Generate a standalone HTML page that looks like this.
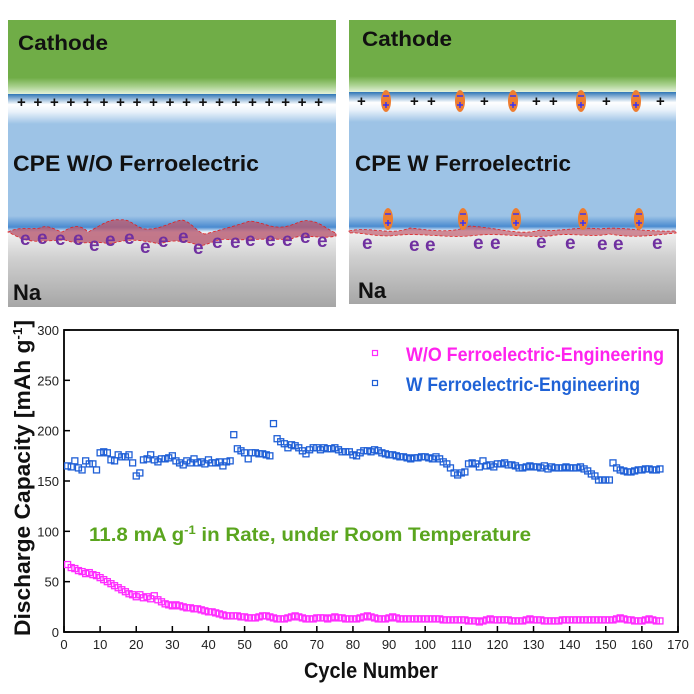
<!DOCTYPE html>
<html><head><meta charset="utf-8"><style>
html,body{margin:0;padding:0;background:#fff;width:694px;height:694px;overflow:hidden}
svg{display:block;font-family:"Liberation Sans",sans-serif}
</style></head><body>
<svg id="fig" width="694" height="694" viewBox="0 0 694 694">
<defs>
<linearGradient id="gGreen" x1="0" y1="0" x2="0" y2="1">
<stop offset="0" stop-color="#70ad47"/><stop offset="0.78" stop-color="#70ad47"/><stop offset="0.9" stop-color="#a9d18e"/><stop offset="1" stop-color="#e2f0d9"/></linearGradient>
<linearGradient id="gTopBlue" x1="0" y1="0" x2="0" y2="1">
<stop offset="0" stop-color="#2e75b6"/><stop offset="0.35" stop-color="#ffffff"/><stop offset="0.6" stop-color="#e8f1fa"/><stop offset="1" stop-color="#9dc3e6"/></linearGradient>
<linearGradient id="gBotBlue" x1="0" y1="0" x2="0" y2="1">
<stop offset="0" stop-color="#9dc3e6"/><stop offset="0.7" stop-color="#4a8bd0"/><stop offset="1" stop-color="#e8f1fa"/></linearGradient>
<linearGradient id="gGrey" x1="0" y1="0" x2="0" y2="1">
<stop offset="0" stop-color="#f2f2f2"/><stop offset="0.35" stop-color="#d0d0d0"/><stop offset="1" stop-color="#a6a6a6"/></linearGradient>
</defs>

<g>
<rect x="8" y="20" width="328" height="74" fill="url(#gGreen)"/>
<rect x="8" y="94" width="328" height="30" fill="url(#gTopBlue)"/>
<rect x="8" y="124" width="328" height="92" fill="#9dc3e6"/>
<rect x="8" y="216" width="328" height="16" fill="url(#gBotBlue)"/>
<rect x="8" y="232" width="328" height="75" fill="url(#gGrey)"/>
<path d="M8,232 C20,226 30,230 40,228 C48,224 55,230 62,232 C70,228 78,222 88,232 C100,226 110,218 120,220 C130,218 136,228 145,229 C160,230 170,222 182,220 C192,222 196,232 205,234 C220,230 235,226 250,221 C262,222 270,228 282,227 C295,226 300,219 310,221 C320,222 328,230 336,233 L336,236 C320,240 300,232 290,240 C270,238 250,240 230,240 C215,236 205,250 195,244 C180,240 170,240 160,244 C140,240 130,238 110,244 C95,240 80,246 65,240 C50,240 35,244 20,238 Z" fill="#b85a70" fill-opacity="0.8" stroke="#e02020" stroke-width="0.8" stroke-dasharray="3,2"/>
<text x="18" y="50" font-size="21" font-weight="bold" fill="#111" textLength="90" lengthAdjust="spacingAndGlyphs">Cathode</text>
<text x="13" y="171" font-size="22" font-weight="bold" fill="#111" textLength="246" lengthAdjust="spacingAndGlyphs">CPE W/O Ferroelectric</text>
<text x="13" y="300" font-size="22" font-weight="bold" fill="#111">Na</text>
<text x="17" y="107" font-size="15" font-weight="bold" fill="#111" textLength="306">+++++++++++++++++++</text>
<g font-size="19" font-weight="bold" fill="#7030a0">
<text x="20" y="245">e</text><text x="37" y="244">e</text><text x="55" y="245">e</text><text x="73" y="245">e</text><text x="89" y="251">e</text><text x="105" y="246">e</text><text x="124" y="244">e</text><text x="140" y="253">e</text><text x="158" y="247">e</text><text x="178" y="243">e</text><text x="193" y="254">e</text><text x="212" y="248">e</text><text x="230" y="248">e</text><text x="245" y="246">e</text><text x="265" y="246">e</text><text x="282" y="246">e</text><text x="300" y="243">e</text><text x="317" y="247">e</text>
</g>
</g>

<g>
<rect x="349" y="20" width="327" height="72" fill="url(#gGreen)"/>
<rect x="349" y="92" width="327" height="30" fill="url(#gTopBlue)"/>
<rect x="349" y="122" width="327" height="94" fill="#9dc3e6"/>
<rect x="349" y="216" width="327" height="15" fill="url(#gBotBlue)"/>
<rect x="349" y="231" width="327" height="73" fill="url(#gGrey)"/>
<path d="M349,231 C370,226 390,236 410,228 C430,230 450,234 470,226 C500,228 520,236 540,230 C560,232 580,226 600,229 C620,226 640,232 676,231 L676,233 C650,236 630,238 610,234 C590,238 570,232 550,236 C520,238 500,232 470,236 C440,238 420,232 390,236 C370,236 360,232 349,233 Z" fill="#c06070" fill-opacity="0.7" stroke="#e02020" stroke-width="0.8" stroke-dasharray="3,2"/>
<text x="362" y="46" font-size="21" font-weight="bold" fill="#111" textLength="90" lengthAdjust="spacingAndGlyphs">Cathode</text>
<text x="355" y="171" font-size="22" font-weight="bold" fill="#111" textLength="216" lengthAdjust="spacingAndGlyphs">CPE W Ferroelectric</text>
<text x="358" y="298" font-size="22" font-weight="bold" fill="#111">Na</text>
<g font-size="15" font-weight="bold" fill="#111">
<text x="357" y="106">+</text><text x="410" y="106">+</text><text x="427" y="106">+</text><text x="480" y="106">+</text><text x="532" y="106">+</text><text x="549" y="106">+</text><text x="602" y="106">+</text><text x="656" y="106">+</text>
</g>
<g id="dipoles"></g>
<g font-size="19" font-weight="bold" fill="#7030a0">
<text x="362" y="249">e</text><text x="409" y="251">e</text><text x="425" y="251">e</text><text x="473" y="249">e</text><text x="490" y="249">e</text><text x="536" y="248">e</text><text x="565" y="249">e</text><text x="597" y="250">e</text><text x="613" y="250">e</text><text x="652" y="249">e</text>
</g>
</g>

<g id="chart">
<rect x="64" y="330" width="614" height="302" fill="none" stroke="#000" stroke-width="1.8"/>
<g id="xticks"></g>
<g id="yticks"></g>
<g id="series"></g>
<text x="371" y="678" font-size="22" font-weight="bold" text-anchor="middle" fill="#111" textLength="134" lengthAdjust="spacingAndGlyphs">Cycle Number</text>
<text transform="translate(30,478) rotate(-90)" font-size="22" font-weight="bold" text-anchor="middle" fill="#111" textLength="316" lengthAdjust="spacingAndGlyphs">Discharge Capacity [mAh g<tspan dy="-8" font-size="13">-1</tspan><tspan dy="8">]</tspan></text>
<rect x="372.5" y="350.5" width="5" height="5" fill="none" stroke="#ff2cff" stroke-width="1.2"/>
<text x="406" y="361" font-size="19" font-weight="bold" fill="#ff22ee" textLength="258" lengthAdjust="spacingAndGlyphs">W/O Ferroelectric-Engineering</text>
<rect x="372.5" y="380.5" width="5" height="5" fill="none" stroke="#1f5fd6" stroke-width="1.2"/>
<text x="406" y="391" font-size="19" font-weight="bold" fill="#1f62d6" textLength="234" lengthAdjust="spacingAndGlyphs">W Ferroelectric-Engineering</text>
<text x="89" y="541" font-size="19" font-weight="bold" fill="#5aa51e" textLength="442" lengthAdjust="spacingAndGlyphs">11.8 mA g<tspan dy="-7" font-size="12">-1</tspan><tspan dy="7"> in Rate, under Room Temperature</tspan></text>
</g>
</svg>
<script>
const xTicks = [0,10,20,30,40,50,60,70,80,90,100,110,120,130,140,150,160,170];
const yTicks = [0,50,100,150,200,250,300];
const capW = [165,164,170,163,161,170,167,167,161,178,
179,178,171,170,176,174,174,176,168,155,
158,171,172,176,171,169,172,172,173,175,
170,168,166,170,168,172,168,169,167,171,
168,168,169,165,169,170,196,182,180,178,
172,178,178,177,177,176,175,207,192,189,
187,183,186,185,183,180,177,181,183,183,
181,183,182,182,183,181,179,179,179,176,
175,178,180,180,179,181,180,178,177,176,
176,175,174,174,173,172,173,173,174,174,
173,172,174,172,169,167,163,158,156,158,
159,167,168,167,164,170,165,166,164,167,
167,168,166,166,165,163,163,164,165,164,
164,163,165,162,164,163,163,163,164,163,
163,163,164,162,160,157,155,151,151,151,
151,168,163,161,160,159,159,160,161,161,
162,162,161,161,162];
const capWO = [67,64,63,61,60,58,59,57,56,54,
52,50,48,46,44,42,40,38,37,35,
37,34,35,33,36,32,30,28,27,26,
27,26,25,24,24,23,23,22,21,20,
20,19,18,17,16,16,16,16,15,15,
14,14,14,15,16,16,15,14,13,13,
13,14,15,16,15,14,13,13,13,14,
14,14,13,14,15,14,14,13,13,13,
13,14,15,16,15,14,13,13,13,14,
15,14,13,13,13,13,13,13,13,13,
13,13,13,13,12,12,12,12,12,12,
12,11,11,11,10,11,12,13,12,12,
12,12,12,11,11,11,11,12,13,12,
12,12,11,11,11,11,11,12,12,12,
12,12,12,12,12,12,12,12,12,12,
12,12,13,14,13,12,12,11,11,11,
12,13,12,11,11];
const dipoleTopX = [386,460,513,581,636];
const dipoleBotX = [388,463,516,583,639];

const NS = "http://www.w3.org/2000/svg";
const X0=64, X1=678, Y0=632, Y1=330;
function xs(c){return X0+(c-0)/(170-0)*(X1-X0);}
function ys(v){return Y0-(v-0)/(300-0)*(Y0-Y1);}
function mk(tag, attrs, parent){const e=document.createElementNS(NS,tag);for(const k in attrs)e.setAttribute(k,attrs[k]);parent.appendChild(e);return e;}

const xg=document.getElementById('xticks');
xTicks.forEach(t=>{
  const l=mk('line',{x1:xs(t),x2:xs(t),y1:Y0,y2:Y0-6,stroke:'#000','stroke-width':1.5},xg);
  
  
  const tx=mk('text',{x:xs(t),y:Y0+17,'font-size':13,'text-anchor':'middle',fill:'#222'},xg);
  tx.textContent=t;
  
  
});
const yg=document.getElementById('yticks');
yTicks.forEach(t=>{
  const l=mk('line',{x1:X0,x2:X0+6,y1:ys(t),y2:ys(t),stroke:'#000','stroke-width':1.5},yg);
  
  
  const tx=mk('text',{x:X0-5,y:ys(t)+5,'font-size':13,'text-anchor':'end',fill:'#222'},yg);
  tx.textContent=t;
  
  
});
const sg=document.getElementById('series');
function drawSeries(arr,color,name){
  const g=mk('g',{},sg);
  
  
  arr.forEach((v,i)=>{
    const r=mk('rect',{x:xs(i+1)-3,y:ys(v)-3,width:6,height:6,fill:'none',stroke:color,'stroke-width':1.3},g);
    
    
  });
}
drawSeries(capWO,'#ff2cff','series-wo-ferroelectric');
drawSeries(capW,'#1f5fd6','series-w-ferroelectric');

const dg=document.getElementById('dipoles');
function dipole(x,y){
  const g=mk('g',{},dg);
  
  
  mk('ellipse',{cx:x,cy:y,rx:5,ry:11,fill:'#ed7d31'},g);
  mk('line',{x1:x-3,x2:x+3,y1:y-5,y2:y-5,stroke:'#3030ff','stroke-width':1.4},g);
  mk('line',{x1:x-3,x2:x+3,y1:y+4,y2:y+4,stroke:'#3030ff','stroke-width':1.4},g);
  mk('line',{x1:x,x2:x,y1:y+1,y2:y+7,stroke:'#3030ff','stroke-width':1.4},g);
}
dipoleTopX.forEach(x=>dipole(x,101));
dipoleBotX.forEach(x=>dipole(x,219));
</script>
</body></html>
